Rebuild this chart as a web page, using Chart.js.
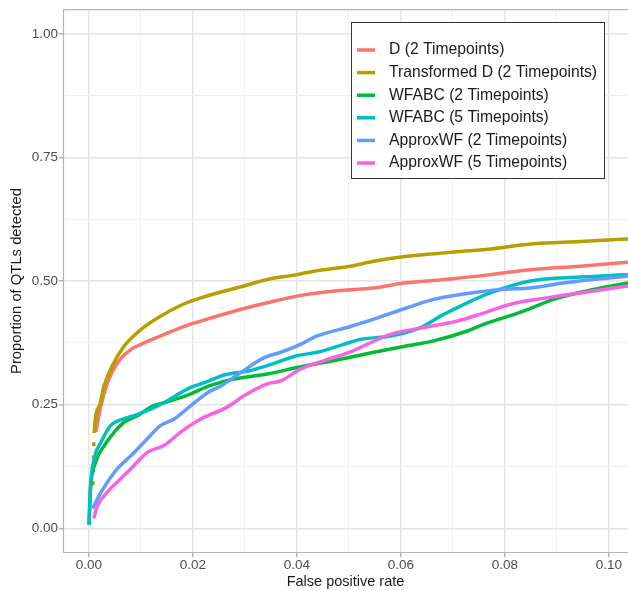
<!DOCTYPE html>
<html>
<head>
<meta charset="utf-8">
<script src="https://cdn.jsdelivr.net/npm/chart.js@4.4.1/dist/chart.umd.min.js"></script>
<style>
  html, body { margin: 0; padding: 0; background: #fff; }
  #wrap { width: 628px; height: 591px; }
</style>
</head>
<body>
<div id="wrap"><canvas id="rocChart"></canvas></div>
<script>
var seriesNames = ["D (2 Timepoints)", "Transformed D (2 Timepoints)", "WFABC (2 Timepoints)",
                   "WFABC (5 Timepoints)", "ApproxWF (2 Timepoints)", "ApproxWF (5 Timepoints)"];
var seriesColors = ["#F8766D", "#B79F00", "#00BA38", "#00BFC4", "#619CFF", "#F564E3"];

var dFpr = [0.0013, 0.0023, 0.0036, 0.0055, 0.0081, 0.01, 0.0138, 0.0177, 0.0215, 0.0279, 0.0343, 0.0407,
            0.0484, 0.0548, 0.06, 0.0695, 0.0772, 0.0849, 0.0945, 0.1037];
var dTpr = [0.195, 0.248, 0.295, 0.335, 0.362, 0.372, 0.389, 0.406, 0.419, 0.439, 0.456, 0.471,
            0.481, 0.486, 0.495, 0.504, 0.513, 0.523, 0.53, 0.538];

var tdFpr = [0.0008, 0.001, 0.002, 0.0029, 0.0045, 0.0068, 0.01, 0.0138, 0.0177, 0.0215, 0.0298, 0.0343,
             0.040, 0.0433, 0.0503, 0.0548, 0.0612, 0.0695, 0.0772, 0.085, 0.0945, 0.1037];
var tdTpr = [0.087, 0.195, 0.248, 0.288, 0.329, 0.369, 0.402, 0.429, 0.451, 0.466, 0.49, 0.503,
             0.513, 0.52, 0.53, 0.54, 0.55, 0.558, 0.565, 0.575, 0.58, 0.585];

var wf2Fpr = [0, 0.0003, 0.0013, 0.003, 0.0049, 0.0068, 0.0094, 0.0119, 0.0158, 0.0196, 0.0231, 0.0279,
              0.0343, 0.040, 0.0484, 0.0548, 0.0612, 0.0663, 0.0728, 0.0753, 0.0836, 0.0894, 0.0958, 0.1037];
var wf2Tpr = [0.007, 0.08, 0.134, 0.168, 0.195, 0.215, 0.228, 0.245, 0.258, 0.272, 0.288, 0.302,
              0.312, 0.325, 0.342, 0.356, 0.369, 0.379, 0.399, 0.41, 0.439, 0.463, 0.48, 0.496];

var wf5Fpr = [0, 0.0003, 0.001, 0.0023, 0.0042, 0.0065, 0.0087, 0.0119, 0.0151, 0.019, 0.0231, 0.026,
              0.0311, 0.0343, 0.040, 0.0439, 0.0484, 0.0523, 0.058, 0.0638, 0.0676, 0.0728, 0.0772,
              0.0849, 0.0945, 0.1037];
var wf5Tpr = [0.007, 0.087, 0.141, 0.174, 0.208, 0.221, 0.228, 0.241, 0.258, 0.282, 0.298, 0.31,
              0.319, 0.329, 0.349, 0.356, 0.37, 0.382, 0.389, 0.406, 0.429, 0.456, 0.476,
              0.5, 0.508, 0.513];

var ap2Fpr = [0.0007, 0.002, 0.0036, 0.0055, 0.0081, 0.0106, 0.0138, 0.0164, 0.0196, 0.0231, 0.0254, 0.0292,
              0.0337, 0.0369, 0.0407, 0.0439, 0.0503, 0.0548, 0.0612, 0.0663, 0.0728, 0.0792, 0.0849,
              0.0913, 0.1037];
var ap2Tpr = [0.04, 0.067, 0.094, 0.121, 0.147, 0.174, 0.208, 0.221, 0.248, 0.276, 0.288, 0.315,
              0.345, 0.356, 0.372, 0.389, 0.408, 0.423, 0.446, 0.463, 0.475, 0.483, 0.486,
              0.496, 0.51];

var ap5Fpr = [0.0009, 0.0017, 0.0036, 0.0055, 0.0081, 0.0113, 0.0145, 0.0177, 0.0215, 0.0266, 0.0298, 0.0343,
              0.0369, 0.0407, 0.0452, 0.0503, 0.0535, 0.058, 0.0644, 0.0708, 0.0753, 0.0811, 0.0881,
              0.0945, 0.1037];
var ap5Tpr = [0.02, 0.047, 0.074, 0.094, 0.121, 0.154, 0.168, 0.195, 0.221, 0.245, 0.268, 0.292,
              0.298, 0.322, 0.339, 0.357, 0.372, 0.392, 0.406, 0.419, 0.433, 0.453, 0.466,
              0.476, 0.49];

var xTicks = [0, 0.01, 0.02, 0.03, 0.04, 0.05, 0.06, 0.07, 0.08, 0.09, 0.10];
var yTicks = [0, 0.125, 0.25, 0.375, 0.5, 0.625, 0.75, 0.875, 1.0];

var allFpr = [dFpr, tdFpr, wf2Fpr, wf5Fpr, ap2Fpr, ap5Fpr];
var allTpr = [dTpr, tdTpr, wf2Tpr, wf5Tpr, ap2Tpr, ap5Tpr];

const isMajorX = v => Math.abs(Math.round(v * 50) - v * 50) < 1e-6;
const isMajorY = v => Math.abs(Math.round(v * 4) - v * 4) < 1e-6;

// panel border (top, left, bottom) like the ggplot panel
const panelBorder = {
  id: 'panelBorder',
  afterDraw(chart) {
    const {ctx, chartArea: a} = chart;
    ctx.save();
    ctx.strokeStyle = '#b3b3b3';
    ctx.lineWidth = 1.2;
    ctx.beginPath();
    ctx.moveTo(a.right, a.top + 0.5);
    ctx.lineTo(a.left + 0.5, a.top + 0.5);
    ctx.lineTo(a.left + 0.5, a.bottom - 0.5);
    ctx.lineTo(a.right, a.bottom - 0.5);
    ctx.stroke();
    ctx.restore();
  }
};

// boxed legend inside the panel
const boxLegend = {
  id: 'boxLegend',
  afterDraw(chart) {
    const ctx = chart.ctx;
    ctx.save();
    ctx.fillStyle = '#ffffff';
    ctx.fillRect(351.5, 22.5, 253, 156);
    ctx.strokeStyle = '#333333';
    ctx.lineWidth = 1;
    ctx.strokeRect(351.5, 22.5, 253, 156);
    ctx.font = '15.7px "Liberation Sans", Arial, sans-serif';
    ctx.textBaseline = 'middle';
    seriesNames.forEach((name, i) => {
      const y = 50 + i * 22.6;
      ctx.strokeStyle = seriesColors[i];
      ctx.lineWidth = 3.5;
      ctx.beginPath();
      ctx.moveTo(357, y);
      ctx.lineTo(375, y);
      ctx.stroke();
      ctx.fillStyle = '#1a1a1a';
      ctx.fillText(name, 389, y);
    });
    ctx.restore();
  }
};

const ctx = document.getElementById('rocChart').getContext('2d');

new Chart(ctx, {
  type: 'line',
  data: {
    datasets: seriesNames.map((name, i) => ({
      label: name,
      data: allFpr[i].map((x, j) => ({x: x, y: allTpr[i][j]})),
      borderColor: seriesColors[i],
      backgroundColor: seriesColors[i],
      borderWidth: 3.5,
      pointRadius: 0,
      cubicInterpolationMode: 'monotone',
      order: 6 - i,
      segment: i === 1 ? { borderDash: c => c.p0DataIndex === 0 ? [4, 9] : undefined } : undefined
    }))
  },
  options: {
    responsive: true,
    maintainAspectRatio: false,
    animation: false,
    layout: { padding: { top: 8, left: 0, right: 0, bottom: 0 } },
    plugins: {
      legend: { display: false },
      tooltip: { enabled: false }
    },
    scales: {
      x: {
        type: 'linear',
        min: -0.005,
        max: 0.1037,
        afterBuildTicks: s => { s.ticks = xTicks.map(v => ({value: v})); },
        afterFit: s => { s.height = 38; },
        border: { display: false },
        grid: {
          color: c => isMajorX(c.tick.value) ? '#e4e4e4' : '#f1f1f1',
          lineWidth: c => isMajorX(c.tick.value) ? 1.5 : 1,
          tickColor: c => isMajorX(c.tick.value) ? '#b3b3b3' : 'rgba(0,0,0,0)',
          tickLength: 4
        },
        ticks: {
          autoSkip: false,
          maxRotation: 0,
          padding: 0,
          color: '#4d4d4d',
          font: { family: '"Liberation Sans", Arial, sans-serif', size: 13.5 },
          callback: v => isMajorX(v) ? v.toFixed(2) : ''
        },
        title: {
          display: true,
          text: 'False positive rate',
          color: '#1a1a1a',
          padding: { top: 0, bottom: 0 },
          font: { family: '"Liberation Sans", Arial, sans-serif', size: 14.5 }
        }
      },
      y: {
        type: 'linear',
        min: -0.05,
        max: 1.05,
        afterBuildTicks: s => { s.ticks = yTicks.map(v => ({value: v})); },
        afterFit: s => { s.width = 63; },
        border: { display: false },
        grid: {
          color: c => isMajorY(c.tick.value) ? '#e4e4e4' : '#f1f1f1',
          lineWidth: c => isMajorY(c.tick.value) ? 1.5 : 1,
          tickColor: c => isMajorY(c.tick.value) ? '#b3b3b3' : 'rgba(0,0,0,0)',
          tickLength: 4
        },
        ticks: {
          autoSkip: false,
          padding: 1,
          color: '#4d4d4d',
          font: { family: '"Liberation Sans", Arial, sans-serif', size: 13.5 },
          callback: v => isMajorY(v) ? v.toFixed(2) : ''
        },
        title: {
          display: true,
          text: 'Proportion of QTLs detected',
          color: '#1a1a1a',
          padding: { top: 8.5, bottom: 0 },
          font: { family: '"Liberation Sans", Arial, sans-serif', size: 14.8 }
        }
      }
    }
  },
  plugins: [panelBorder, boxLegend]
});
</script>
</body>
</html>
